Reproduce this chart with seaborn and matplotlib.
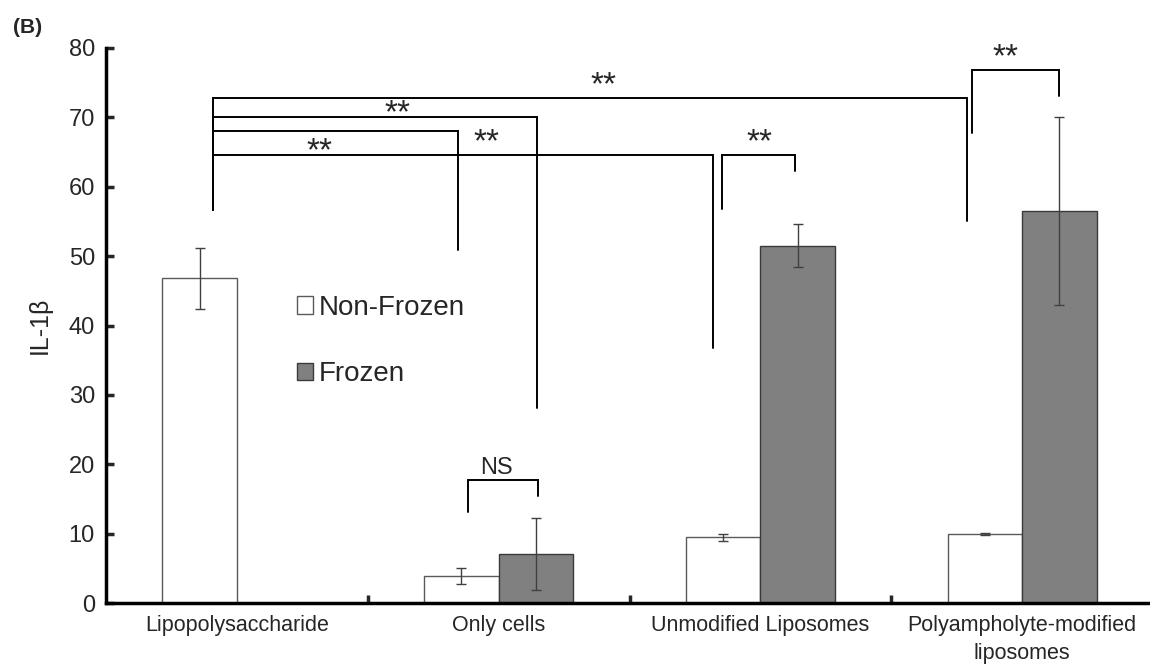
import numpy as np
import pandas as pd
import matplotlib
matplotlib.use("Agg")
import matplotlib.pyplot as plt
from matplotlib.patches import Patch
import seaborn as sns

# data
groups = ["Lipopolysaccharide", "Only cells", "Unmodified Liposomes",
          "Polyampholyte-modified\nliposomes"]
conditions = ["Non-Frozen", "Frozen"]
non_frozen = [46.8, 3.9, 9.5, 9.95]
non_frozen_err = [4.4, 1.2, 0.5, 0.2]
frozen = [np.nan, 7.05, 51.5, 56.5]
frozen_err = [np.nan, 5.15, 3.1, 13.5]

# significance brackets: (x_left, x_right, y_top, y_left_end, y_right_end)
brackets = [
    (-0.092, 2.789, 72.8, 56.6, 55.0),
    (-0.092, 1.145, 70.1, 56.6, 28.1),
    (-0.092, 0.846, 68.0, 56.6, 50.9),
    (-0.092, 1.818, 64.6, 56.6, 36.8),
    (1.853, 2.132, 64.6, 56.8, 62.3),
    (2.807, 3.142, 76.9, 67.8, 73.1),
    (0.882, 1.150, 17.7, 13.1, 15.4),
]
# labels: (x, y of visual centre, text)
labels = [
    (1.40, 75.4, "**"),
    (0.615, 71.4, "**"),
    (0.317, 65.9, "**"),
    (0.955, 67.2, "**"),
    (1.995, 67.2, "**"),
    (2.935, 79.4, "**"),
    (0.993, 19.8, "NS"),
]

sns.set_style("ticks")
plt.rcParams['font.family'] = ['Liberation Sans', 'DejaVu Sans']

df = pd.DataFrame({
    "group": groups * 2,
    "condition": [conditions[0]] * 4 + [conditions[1]] * 4,
    "value": non_frozen + frozen,
    "err": non_frozen_err + frozen_err,
})

fig = plt.figure(figsize=(11.5, 6.66), dpi=100)
ax = fig.add_axes([106 / 1150, 63 / 666, 1047 / 1150, 555 / 666])

sns.barplot(data=df, x="group", y="value", hue="condition", hue_order=conditions,
            order=groups, palette=["white", "#808080"], width=0.57,
            errorbar=None, legend=False, saturation=1, ax=ax)

edge = {"Non-Frozen": "#5a5a5a", "Frozen": "#3a3a3a"}
for cont, cond in zip(ax.containers, conditions):
    sub = df[df["condition"] == cond].dropna(subset=["value"])
    for bar, (_, row) in zip(cont, sub.iterrows()):
        bar.set_edgecolor(edge[cond])
        bar.set_linewidth(1.0)
        xc = bar.get_x() + bar.get_width() / 2
        ax.errorbar(xc, row["value"], yerr=row["err"], fmt="none",
                    ecolor="#404040", elinewidth=1.0, capsize=3.5, capthick=1.0,
                    zorder=4)

for xl, xr, yt, yl, yr in brackets:
    ax.plot([xl, xl, xr, xr], [yl, yt, yt, yr], color="black", lw=1.4,
            solid_joinstyle="miter", zorder=5)
for x, y, t in labels:
    if t == "**":
        fs, shift = 24, -0.43
    else:
        fs, shift = 17, -0.36
    ax.annotate(t, (x, y), xytext=(0, shift * fs), textcoords="offset points",
                ha="center", va="baseline", fontsize=fs, zorder=6)

ax.set_xlim(-0.5, 3.5)
ax.set_ylim(0, 80)
ax.set_yticks(range(0, 81, 10))
ax.set_xlabel("")
ax.set_ylabel("IL-1β", fontsize=18, labelpad=12)

ax.set_xticks([0.5, 1.5, 2.5], minor=True)
ax.tick_params(axis="x", which="major", length=0, pad=9, labelsize=15.5)
ax.tick_params(axis="x", which="minor", direction="in", length=6, width=2.5)
ax.tick_params(axis="y", direction="in", length=6, width=2.5, labelsize=17, pad=8)
for lab in ax.get_xticklabels():
    lab.set_linespacing(1.4)

sns.despine(ax=ax)
ax.spines["left"].set_linewidth(2.5)
ax.spines["bottom"].set_linewidth(2.5)
ax.spines["left"].set_color("black")
ax.spines["bottom"].set_color("black")

handles = [Patch(facecolor="white", edgecolor="#5a5a5a", lw=1.0),
           Patch(facecolor="#808080", edgecolor="#3a3a3a", lw=1.0)]
ax.legend(handles, conditions, loc="upper left", bbox_to_anchor=(0.182, 0.555),
          frameon=False, fontsize=20, handlelength=0.6, handleheight=0.6,
          handletextpad=0.2, labelspacing=1.45, borderpad=0, borderaxespad=0)

fig.text(0.011, 0.958, "(B)", fontsize=15, fontweight="bold", ha="left", va="center")

fig.savefig("out.png", dpi=100)
